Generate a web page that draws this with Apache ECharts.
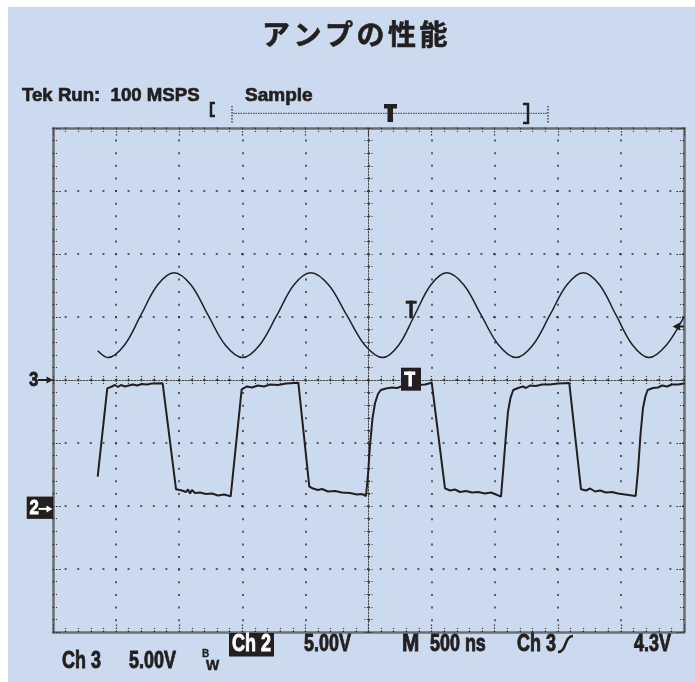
<!DOCTYPE html>
<html><head><meta charset="utf-8">
<script src="https://cdn.jsdelivr.net/npm/echarts@6/dist/echarts.min.js"></script>
<style>html,body{margin:0;padding:0;background:#fff}#c{width:695px;height:682px}</style>
</head><body><div id="c"></div>
<script>
// ---- data (time in ns, amplitude in divisions) ----
const titleChars = ['ア','ン','プ','の','性','能'];
const xTicksNs = [0, 5000, 500];          // min, max, interval (500 ns / div)
const yTicksDiv = [-4, 4, 1];             // min, max, interval
const sineTimeNs = [354,436,567,697,828,959,1094,1228,1365,1503,1638,1775,1908,2042,2185,2327,2470,2613,2740,2866,2993,3120,3256,3392,3531,3669,3803,3938,4071,4202,4332,4461,4592,4723,4861,5000];
const sineDiv    = [0.465,0.357,0.556,1.032,1.508,1.703,1.508,1.032,0.556,0.357,0.556,1.032,1.508,1.703,1.508,1.032,0.556,0.357,0.556,1.032,1.508,1.703,1.508,1.032,0.556,0.357,0.556,1.032,1.508,1.703,1.508,1.032,0.556,0.357,0.556,1.005];
const squareTimeNs = [354,430,468,491,515,539,571,602,634,666,705,745,784,869,
  975,1022,1054,1070,1086,1101,1125,1165,1212,1260,1307,1355,1408,
  1495,1537,1577,1624,1672,1720,1783,1846,1944,
  2031,2060,2100,2132,2179,2235,2290,2353,2409,2449,2480,
  2496,2512,2532,2552,2575,2597,2639,2686,2726,2773,2829,2892,2948,3001,
  3106,3146,3185,3225,3273,3320,3368,3423,3471,3510,3550,
  3566,3586,3605,3625,3647,3685,3724,3748,3780,3827,3875,3938,4002,4091,
  4184,4224,4256,4295,4334,4382,4430,4477,4533,4617,
  4636,4655,4675,4695,4712,4754,4794,4826,4865,4905,4953,5000];
const squareDiv = [-1.535,-0.132,-0.103,-0.079,-0.111,-0.079,-0.103,-0.087,-0.071,-0.087,-0.063,-0.071,-0.056,-0.052,
  -1.735,-1.754,-1.778,-1.738,-1.802,-1.746,-1.794,-1.786,-1.810,-1.802,-1.833,-1.817,-1.846,
  -0.148,-0.103,-0.119,-0.087,-0.103,-0.071,-0.079,-0.056,-0.043,
  -1.694,-1.722,-1.746,-1.730,-1.770,-1.762,-1.786,-1.794,-1.817,-1.810,-1.841,
  -1.508,-1.032,-0.603,-0.365,-0.222,-0.159,-0.135,-0.119,-0.127,-0.095,-0.103,-0.079,-0.071,-0.043,
  -1.719,-1.754,-1.738,-1.778,-1.762,-1.786,-1.778,-1.802,-1.786,-1.817,-1.852,
  -1.460,-0.952,-0.508,-0.286,-0.159,-0.127,-0.103,-0.127,-0.087,-0.095,-0.071,-0.071,-0.056,-0.048,
  -1.735,-1.754,-1.722,-1.770,-1.754,-1.786,-1.778,-1.802,-1.817,-1.841,
  -1.429,-0.873,-0.444,-0.254,-0.159,-0.127,-0.119,-0.087,-0.103,-0.071,-0.071,-0.056];
const channelMarkers = [['3', 0], ['2', -2.03]];   // label, level in divisions

// ---- build ----
const INK = '#231f20';
const SANS = '"Liberation Sans",Arial,sans-serif';
const CJK = '"Noto Sans CJK JP","Noto Sans CJK SC",sans-serif';
const BIG = 'bold 23px ' + SANS;
const sineData = sineTimeNs.map((t, i) => [t, sineDiv[i]]);
const squareData = squareTimeNs.map((t, i) => [t, squareDiv[i]]);

const frameLine = {show: true, onZero: false, lineStyle: {color: '#6d6e71', width: 2.5}};
const tickStyle = {color: '#333', width: 1.2, type: [1.6, 1.4]};
const noLabel = {show: false};
const off = {show: false};
function frameX(pos, split) {
  return {type: 'value', min: xTicksNs[0], max: xTicksNs[1], interval: xTicksNs[2], position: pos,
    axisLine: frameLine, axisLabel: noLabel,
    axisTick: {show: true, inside: true, length: 8, lineStyle: tickStyle},
    minorTick: {show: true, splitNumber: 5, length: 4, lineStyle: tickStyle},
    splitLine: split ? {show: true, lineStyle: {color: '#333', width: 1.5, type: [2, 10.62], dashOffset: 1}} : off,
    minorSplitLine: off};
}
function frameY(pos, split) {
  return {type: 'value', min: yTicksDiv[0], max: yTicksDiv[1], interval: yTicksDiv[2], position: pos,
    axisLine: frameLine, axisLabel: noLabel,
    axisTick: {show: true, inside: true, length: 8, lineStyle: tickStyle},
    minorTick: {show: true, splitNumber: 5, length: 4, lineStyle: tickStyle},
    splitLine: split ? {show: true, lineStyle: {color: '#333', width: 1.5, type: [2, 10.6], dashOffset: 1}} : off,
    minorSplitLine: off};
}
function centerAxis(base, pos, lineShow, zeroIdx) {
  const a = Object.assign({}, base);
  a.position = pos;
  a.axisLine = {show: lineShow, onZero: true, onZeroAxisIndex: zeroIdx, lineStyle: {color: '#444', width: 1, type: [1.5, 1.5]}};
  a.axisTick = {show: true, inside: true, length: 4, lineStyle: tickStyle};
  a.minorTick = {show: true, splitNumber: 5, length: 4, lineStyle: tickStyle};
  a.splitLine = off;
  return a;
}
const xBase = frameX('bottom', false), yBase = frameY('left', false);

const chart = echarts.init(document.getElementById('c'), null, {renderer: 'canvas'});

function txt(s, x, y, font, fill, align, sx, sw) {
  const f = fill || INK;
  return {type: 'text', x: x, y: y, scaleX: sx || 1, silent: true, z: 50,
    style: {text: s, font: font, fill: f, stroke: f, lineWidth: sw == null ? 0.9 : sw,
            align: align || 'left', verticalAlign: 'middle',
            textAlign: align || 'left', textVerticalAlign: 'middle'}};
}
function rect(x, y, w, h, fill) {
  return {type: 'rect', shape: {x: x, y: y, width: w, height: h}, style: {fill: fill || INK}, silent: true, z: 50};
}
function poly(points, stroke, w, dash) {
  return {type: 'polyline', shape: {points: points}, style: {stroke: stroke || INK, lineWidth: w || 2, fill: null, lineDash: dash || null}, silent: true, z: 50};
}
function tri(points, fill) {
  return {type: 'polygon', shape: {points: points}, style: {fill: fill || INK}, silent: true, z: 50};
}

const graphics = [
  {type: 'rect', shape: {x: 8, y: 7, width: 687, height: 675}, style: {fill: '#cbdaef'}, silent: true, z: -100}
];
titleChars.forEach((c, i) => graphics.push(txt(c, 276 + i * 31.5, 34, 'bold 28px ' + CJK, INK, 'center', 1, 0.6)));
graphics.push(
  txt('Tek Run:  100 MSPS', 22, 96, 'bold 19px ' + SANS, INK, 'left', 0.98, 0.7),
  txt('Sample', 245, 96, 'bold 19px ' + SANS, INK, 'left', 1, 0.7),
  poly([[215, 103], [211, 103], [211, 116], [215, 116]], INK, 2.5),
  poly([[233, 113.3], [548, 113.3]], '#555', 1.3, [1.5, 1]),
  poly([[232, 106], [232, 123]], '#333', 1.3, [1.5, 1.5]),
  poly([[548, 106], [548, 123]], '#333', 1.3, [1.5, 1.5]),
  rect(384, 104, 13, 4.5), rect(387.5, 104, 5.5, 18),
  poly([[523, 104], [528, 104], [528, 123], [523, 123]], INK, 2.5),
  // sine channel reference arrow at right
  tri([[672.5, 326.5], [680, 322.5], [680, 330.5]]), poly([[678, 326.5], [684, 326.5]], INK, 2),
  // trigger T on sine
  rect(405.7, 300.7, 11, 3), rect(409.3, 300.7, 3.5, 17.6),
  // trigger box T
  rect(401, 367.7, 20, 23), rect(404, 371.5, 11.3, 3.5, '#fff'), rect(408.4, 371.5, 3.5, 15, '#fff'),
  // bottom readouts
  rect(229, 633, 45, 23.5), txt('Ch 2', 251.5, 645, BIG, '#fff', 'center', 0.78),
  txt('5.00V', 304, 645, BIG, INK, 'left', 0.78),
  txt('M', 402, 645, BIG, INK, 'left', 0.9),
  txt('500 ns', 430, 645, BIG, INK, 'left', 0.78),
  txt('Ch 3', 517, 645, BIG, INK, 'left', 0.78),
  {type: 'bezierCurve', shape: {x1: 558, y1: 652, cpx1: 567, cpy1: 652, cpx2: 564, cpy2: 636, x2: 573, y2: 636},
   style: {stroke: INK, lineWidth: 2.5, fill: null}, silent: true, z: 50},
  txt('4.3V', 634, 645, BIG, INK, 'left', 0.78),
  txt('Ch 3', 62, 662, BIG, INK, 'left', 0.78),
  txt('5.00V', 129, 662, BIG, INK, 'left', 0.78),
  txt('B', 202, 654, 'bold 10px ' + SANS, INK, 'left', 1, 0.3),
  txt('W', 206, 666, 'bold 14px ' + SANS, INK, 'left', 1, 0.5)
);

chart.setOption({
  animation: false,
  backgroundColor: '#ffffff',
  grid: {left: 53, right: 11, top: 128, bottom: 50, containLabel: false},
  xAxis: [
    frameX('bottom', true),
    frameX('top', false),
    centerAxis(xBase, 'bottom', true, 0),
    centerAxis(xBase, 'top', false, 0),
    {type: 'value', min: -2500, max: 2500, show: false, axisLine: {onZero: false}, splitLine: off}
  ],
  yAxis: [
    frameY('left', true),
    frameY('right', false),
    centerAxis(yBase, 'left', true, 4),
    centerAxis(yBase, 'right', false, 4)
  ],
  series: [
    {type: 'line', xAxisIndex: 0, yAxisIndex: 0, data: sineData, smooth: 0.35, symbol: 'none', showSymbol: false,
     lineStyle: {color: INK, width: 1.5}, silent: true, z: 5},
    {type: 'line', xAxisIndex: 0, yAxisIndex: 0, data: squareData, symbol: 'none', showSymbol: false,
     lineStyle: {color: INK, width: 2}, silent: true, z: 5}
  ],
  graphic: graphics
});

// channel ground markers anchored to axis levels
channelMarkers.forEach(([label, lvl]) => {
  const y = chart.convertToPixel({yAxisIndex: 0}, lvl);
  if (label === '3') {
    graphics.push(txt('3', 29, y + 0.5, 'bold 21px ' + SANS, INK, 'left', 0.8),
      poly([[38, y], [48, y]], INK, 2), tri([[53, y], [46.5, y - 3.5], [46.5, y + 3.5]]));
  } else {
    graphics.push(rect(26.7, y - 11.3, 26.6, 22.3),
      txt('2', 29.5, y + 0.5, 'bold 21px ' + SANS, '#fff', 'left', 0.8),
      poly([[38.5, y + 1], [48, y + 1]], '#fff', 2), tri([[52.5, y + 1], [46.5, y - 2.5], [46.5, y + 4.5]], '#fff'));
  }
});
chart.setOption({graphic: graphics}, {replaceMerge: ['graphic']});
</script></body></html>
